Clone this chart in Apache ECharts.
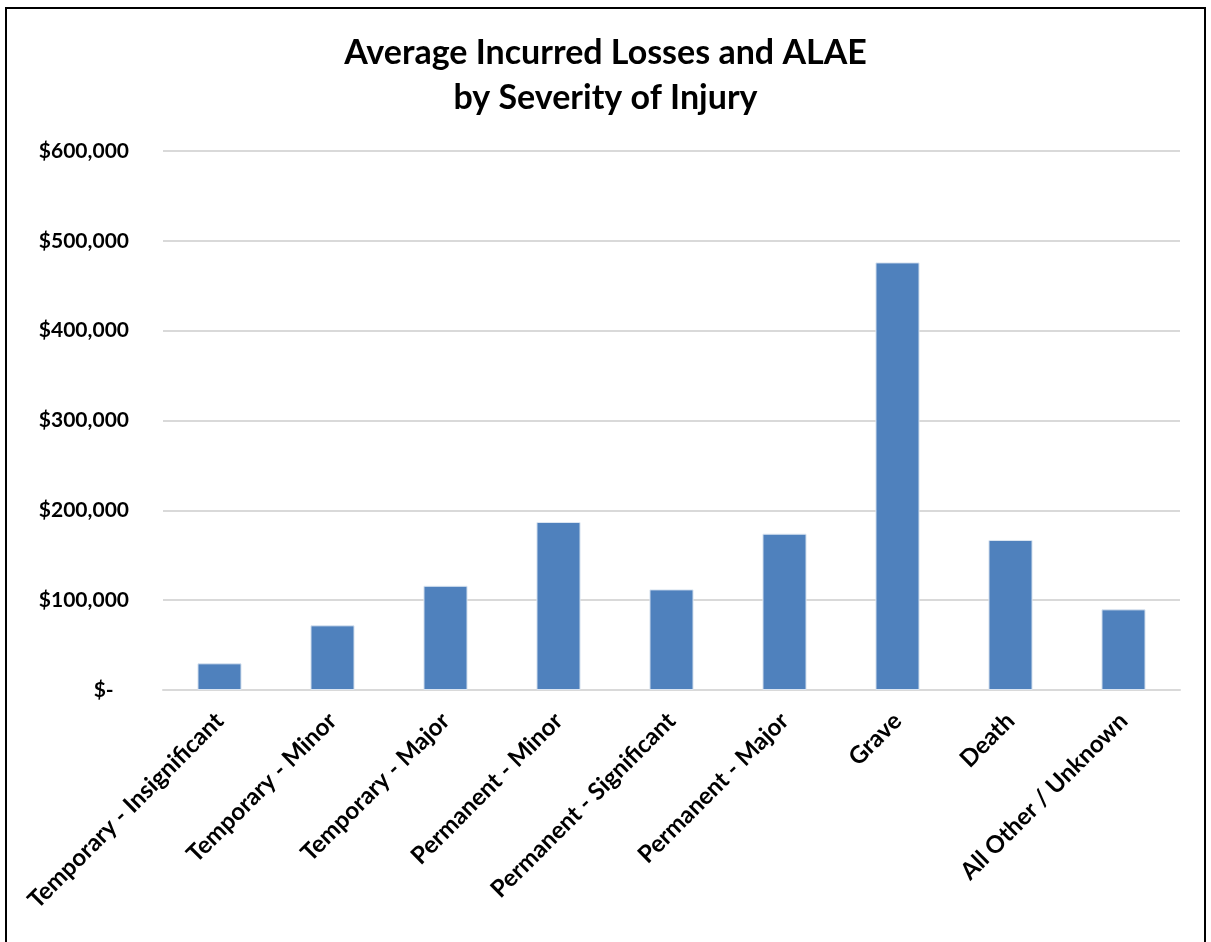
<!DOCTYPE html>
<html lang="en">
<head>
  <meta charset="UTF-8">
  <title>Average Incurred Losses and ALAE</title>
  <style>
    html, body { margin: 0; padding: 0; background: #fff; }
    #main { width: 1211px; height: 942px; }
  </style>
</head>
<body>
<div id="main"></div>
<script src="https://cdn.jsdelivr.net/npm/echarts@6/dist/echarts.min.js"></script>
<script>
// categories and values
var severity = ['Temporary - Insignificant', 'Temporary - Minor', 'Temporary - Major',
  'Permanent - Minor', 'Permanent - Significant', 'Permanent - Major',
  'Grave', 'Death', 'All Other / Unknown'];
var avgLoss = [29700, 72000, 116000, 187000, 112000, 174000, 476000, 167000, 89800];

var yTicks = [0, 100000, 200000, 300000, 400000, 500000, 600000];

function money(v) {
  if (v === 0) return '$-   ';
  return '$' + v.toString().replace(/\B(?=(\d{3})+(?!\d))/g, ',');
}

var myChart = echarts.init(document.getElementById('main'));
var option = {
  backgroundColor: '#fff',
  animation: false,
  textStyle: { fontFamily: 'Lato' },
  graphic: [{
    type: 'rect',
    shape: { x: 6, y: 8, width: 1199, height: 945 },
    style: { fill: 'none', stroke: '#000', lineWidth: 2 }
  }],
  title: {
    text: 'Average Incurred Losses and ALAE\nby Severity of Injury',
    left: 'center',
    top: 26,
    textStyle: { fontSize: 34, fontWeight: 'bold', color: '#000', lineHeight: 45, fontFamily: 'Lato' }
  },
  grid: { left: 163, right: 31, top: 151, bottom: 252 },
  xAxis: {
    type: 'category',
    data: severity,
    axisTick: { show: false },
    axisLine: { lineStyle: { color: '#d9d9d9', width: 2 } },
    axisLabel: {
      interval: 0,
      rotate: 45,
      margin: 27,
      color: '#000',
      fontSize: 24,
      fontWeight: 'bold'
    }
  },
  yAxis: {
    type: 'value',
    min: yTicks[0],
    max: yTicks[yTicks.length - 1],
    interval: 100000,
    axisLine: { show: false },
    axisTick: { show: false },
    splitLine: { lineStyle: { color: '#d9d9d9', width: 2 } },
    axisLabel: {
      margin: 34,
      color: '#000',
      fontSize: 21,
      fontWeight: 'bold',
      formatter: money
    }
  },
  series: [{
    type: 'bar',
    data: avgLoss,
    barWidth: '39%',
    itemStyle: { color: '#4f81bd', borderColor: '#dbe5f1', borderWidth: 1 }
  }]
};
myChart.setOption(option);
</script>
</body>
</html>
